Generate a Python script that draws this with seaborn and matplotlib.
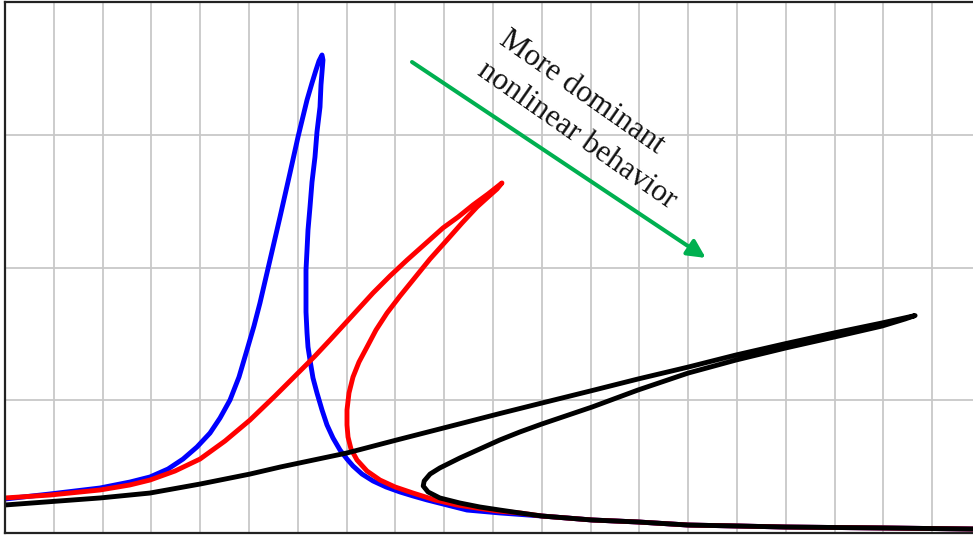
import numpy as np
import pandas as pd
import matplotlib
matplotlib.use("Agg")
import matplotlib.pyplot as plt
import seaborn as sns

# ---- data ----
tail_x = [11.00, 12.03, 12.97, 14.00, 14.98, 16.00, 17.97, 19.84]
tail_y = [0.128, 0.098, 0.083, 0.060, 0.053, 0.045, 0.038, 0.030]

blue_x = [0.000, 0.922, 1.947, 2.561, 2.971, 3.340, 3.648, 3.934, 4.201, 4.406,
          4.611, 4.795, 4.959, 5.102, 5.225, 5.430, 5.635, 5.840, 6.004, 6.189,
          6.291, 6.373, 6.434, 6.496,
          6.516, 6.475, 6.455, 6.393, 6.352, 6.291, 6.250, 6.209, 6.189, 6.168,
          6.168, 6.168, 6.189, 6.209, 6.250, 6.311, 6.393, 6.496, 6.598, 6.721,
          6.865, 7.008, 7.131, 7.316, 7.541, 7.807, 8.094, 8.361, 8.648, 9.057,
          9.467, 10.143] + tail_x
blue_y = [0.256, 0.294, 0.339, 0.384, 0.422, 0.482, 0.557, 0.648, 0.753, 0.866,
          1.002, 1.175, 1.379, 1.559, 1.733, 2.056, 2.380, 2.712, 2.983, 3.262,
          3.390, 3.488, 3.556, 3.601,
          3.563, 3.375, 3.209, 3.021, 2.832, 2.644, 2.456, 2.282, 2.132, 1.981,
          1.831, 1.665, 1.507, 1.401, 1.303, 1.168, 1.055, 0.927, 0.814, 0.716,
          0.625, 0.557, 0.505, 0.444, 0.392, 0.347, 0.309, 0.279, 0.249, 0.211,
          0.173, 0.151] + tail_y

red_x = [0.000, 0.922, 1.947, 2.561, 2.971, 3.484, 3.996, 4.508, 5.020, 5.533,
         6.045, 6.352, 6.660, 7.111, 7.541, 7.889, 8.238, 8.607, 8.975, 9.283,
         9.590, 9.898, 10.184,
         10.082, 9.877, 9.672, 9.365, 9.057, 8.709, 8.361, 8.094, 7.828, 7.602,
         7.418, 7.254, 7.131, 7.049, 7.008, 7.008, 7.029, 7.090, 7.213, 7.418,
         7.684, 7.992, 8.361, 8.811, 9.262, 9.672, 10.082, 10.553] + tail_x
red_y = [0.264, 0.286, 0.324, 0.362, 0.399, 0.467, 0.557, 0.693, 0.851, 1.032,
         1.220, 1.333, 1.454, 1.635, 1.808, 1.936, 2.056, 2.177, 2.298, 2.380,
         2.471, 2.554, 2.637,
         2.591, 2.524, 2.456, 2.335, 2.207, 2.064, 1.906, 1.785, 1.657, 1.529,
         1.401, 1.288, 1.175, 1.055, 0.927, 0.814, 0.723, 0.633, 0.550, 0.467,
         0.399, 0.347, 0.301, 0.249, 0.211, 0.188, 0.166, 0.151] + tail_y

black_x = [0.00, 1.95, 2.97, 4.00, 5.02, 5.64, 7.01, 8.03, 9.39, 10.14, 11.00,
           12.03, 12.97, 14.00, 14.98, 16.00, 16.99, 17.97, 18.65,
           18.443, 17.971, 16.99, 16.00, 14.98, 14.00, 12.97, 12.03, 11.00,
           10.55, 10.14, 9.73, 9.32, 8.91, 8.71, 8.59, 8.57, 8.67, 8.91, 9.32,
           9.73, 10.14, 10.55] + tail_x
black_y = [0.211, 0.264, 0.301, 0.369, 0.444, 0.497, 0.603, 0.701, 0.829, 0.900,
           0.979, 1.073, 1.160, 1.250, 1.341, 1.427, 1.507, 1.582, 1.638,
           1.612, 1.559, 1.476, 1.394, 1.303, 1.205, 1.077, 0.949, 0.821,
           0.761, 0.701, 0.633, 0.565, 0.490, 0.444, 0.392, 0.354, 0.309, 0.264,
           0.226, 0.196, 0.173, 0.151] + tail_y

curve_names = ["blue", "red", "black"]
curve_colors = ["#0000FF", "#FF0000", "#000000"]

annot_text = "More dominant\nnonlinear behavior"
arrow_start = (8.34, 3.548)
arrow_end = (14.36, 2.072)

# ---- build long-form table ----
frames = []
for name, xs, ys in zip(curve_names, [blue_x, red_x, black_x], [blue_y, red_y, black_y]):
    frames.append(pd.DataFrame({"x": xs, "y": ys, "curve": name, "order": range(len(xs))}))
df = pd.concat(frames, ignore_index=True)

sns.set_theme(style="white")
plt.rcParams["font.family"] = ["Liberation Serif", "DejaVu Serif"]

fig = plt.figure(figsize=(9.73, 5.35), dpi=100)
ax = fig.add_axes([5 / 973, 2 / 535, 968 / 973, 531 / 535])

sns.lineplot(data=df, x="x", y="y", hue="curve", hue_order=curve_names,
             palette=dict(zip(curve_names, curve_colors)), sort=False,
             estimator=None, units="curve", linewidth=3.5, legend=False, ax=ax,
             solid_joinstyle="round", solid_capstyle="round")

ax.set_xlim(0, 968 / 48.8)
ax.set_ylim(0, 4)
ax.set_xticks(np.arange(1, 20))
ax.set_yticks([1, 2, 3])
ax.tick_params(length=0, labelbottom=False, labelleft=False)
ax.grid(True, color="#C8C8C8", linewidth=1.3)
ax.set_axisbelow(True)
ax.set_xlabel("")
ax.set_ylabel("")
for side in ["left", "top", "bottom"]:
    ax.spines[side].set_color("#222222")
    ax.spines[side].set_linewidth(1.6)
ax.spines["right"].set_visible(False)

ax.annotate("", xy=arrow_end, xytext=arrow_start,
            arrowprops=dict(arrowstyle="-|>,head_length=0.9,head_width=0.45",
                            color="#00B050", lw=2.9, shrinkA=0, shrinkB=0))
ax.text(11.95, 3.11, annot_text, rotation=-35, rotation_mode="anchor",
        ha="center", va="center", multialignment="left", fontsize=22.5,
        color="#111111", linespacing=1.4)

fig.savefig("out.png", dpi=100)
